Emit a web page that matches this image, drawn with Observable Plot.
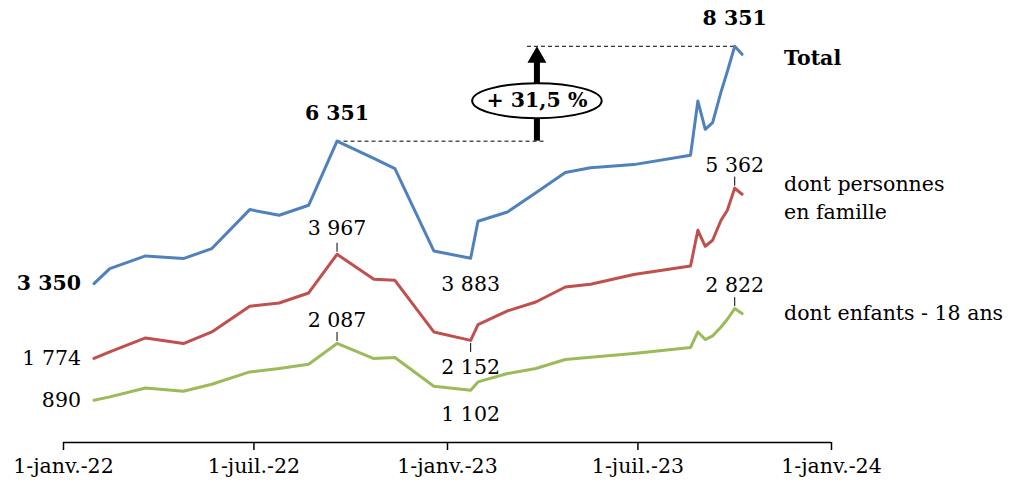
<!DOCTYPE html>
<html><head><meta charset="utf-8">
<script src="https://cdn.jsdelivr.net/npm/d3@7"></script>
<script src="https://cdn.jsdelivr.net/npm/@observablehq/plot@0.6"></script>
<style>body{margin:0;background:#fff} svg{display:block}</style>
</head><body><div id="chart"></div>
<script>
// ---- data ----
const dates = ["2022-01-30","2022-02-14","2022-03-20","2022-04-25","2022-05-22","2022-06-27","2022-07-25","2022-08-22","2022-09-18","2022-10-23","2022-11-12","2022-12-19","2023-01-23","2023-01-30","2023-02-27","2023-03-26","2023-04-23","2023-05-17","2023-06-27","2023-08-20","2023-08-27","2023-09-03","2023-09-10","2023-09-18","2023-09-24","2023-10-01","2023-10-08"];
const total   = [3350,3666,3932,3877,4088,4909,4790,5000,6351,5990,5773,4037,3883,4663,4859,5262,5689,5790,5857,6053,7197,6601,6742,7390,7820,8351,8182];
const famille = [1774,1909,2204,2086,2330,2872,2941,3152,3967,3441,3419,2330,2152,2486,2773,2962,3278,3335,3540,3721,4473,4136,4263,4684,4895,5362,5232];
const enfants = [ 890, 961,1150,1081,1228,1488,1559,1650,2087,1770,1791,1186,1102,1277,1454,1559,1749,1795,1875,2002,2330,2170,2246,2436,2598,2822,2718];
const seriesNames  = ["Total", "dont personnes\nen famille", "dont enfants - 18 ans"];
const seriesColors = ["#4F81BD", "#C0504D", "#9BBB59"];
const tickDates  = ["2022-01-01","2022-07-01","2023-01-01","2023-07-01","2024-01-01"];
const tickLabels = ["1-janv.-22","1-juil.-22","1-janv.-23","1-juil.-23","1-janv.-24"];
const xDomain = ["2022-01-01","2024-01-01"];
const yDomain = [0, 9000];
const growthLabel = "+ 31,5 %";
const annotArrowDate = "2023-03-27";
const annotLowEndDate = "2023-04-05";
const annotHighStartDate = "2023-03-18";
const firstIdx = 0, peakIdx = 8, troughIdx = 12, topIdx = 25;

// ---- build ----
const allSeries = [total, famille, enfants];
const rows = allSeries.flatMap((vals, k) => dates.map((d, i) => ({date: new Date(d), value: vals[i], series: seriesNames[k]})));
const pt = (vals, i) => ({date: new Date(dates[i]), value: vals[i]});
const fmt = v => d3.format(",")(v).replace(/,/g, " ");
const lastIdx = dates.length - 1;
const XY = {x: "date", y: "value"};
const FS = 20.5;

const ellipseSymbol = {
  draw(ctx, size) {
    const r = Math.sqrt(size / Math.PI), rx = r * 3.7, ry = r, k = 0.5523;
    ctx.moveTo(rx, 0);
    ctx.bezierCurveTo(rx, k*ry, k*rx, ry, 0, ry);
    ctx.bezierCurveTo(-k*rx, ry, -rx, k*ry, -rx, 0);
    ctx.bezierCurveTo(-rx, -k*ry, -k*rx, -ry, 0, -ry);
    ctx.bezierCurveTo(k*rx, -ry, rx, -k*ry, rx, 0);
    ctx.closePath();
  }
};

const low = total[peakIdx], high = total[topIdx];
const arrowD = new Date(annotArrowDate);
const mid = [{date: arrowD, value: (low + high) / 2}];

const chart = Plot.plot({
  width: 1010, height: 488,
  marginLeft: 63, marginRight: 179, marginTop: 15, marginBottom: 46,
  style: {fontFamily: "'DejaVu Serif', serif", fontSize: FS + "px", color: "#000", background: "#fff"},
  x: {type: "utc", domain: xDomain.map(d => new Date(d))},
  y: {domain: yDomain, axis: null},
  color: {domain: seriesNames, range: seriesColors},
  marks: [
    Plot.axisX(tickDates.map(d => new Date(d)), {
      tickSize: 8, tickPadding: 8, strokeWidth: 1.5, fontSize: FS,
      tickFormat: d => tickLabels[tickDates.indexOf(d.toISOString().slice(0, 10))]
    }),
    Plot.ruleY([0], {strokeWidth: 1.5}),
    // annotation dashed lines
    Plot.ruleY([low], {x1: new Date(dates[peakIdx]), x2: new Date(annotLowEndDate), strokeDasharray: "4,3", strokeWidth: 1, stroke: "#000"}),
    Plot.ruleY([high], {x1: new Date(annotHighStartDate), x2: new Date(dates[topIdx]), strokeDasharray: "4,3", strokeWidth: 1, stroke: "#000"}),
    // arrow shaft + head
    Plot.ruleX([arrowD], {y1: high, y2: low, insetTop: 14, strokeWidth: 6}),
    Plot.dot([{date: arrowD, value: high}], {...XY, symbol: "triangle", r: 7.05, fill: "black", stroke: "none", dy: 11}),
    Plot.dot(mid, {...XY, symbol: ellipseSymbol, r: 17.5, fill: "white", stroke: "black", strokeWidth: 2, dy: 7}),
    Plot.text(mid, {...XY, text: () => growthLabel, dy: 7, fontWeight: "bold", fontSize: FS}),
    // lines
    Plot.line(rows, {...XY, z: "series", stroke: "series", strokeWidth: 3}),
    // start labels
    Plot.text([pt(total, firstIdx)], {...XY, text: d => fmt(d.value), dx: -13, textAnchor: "end", fontWeight: "bold"}),
    Plot.text([pt(famille, firstIdx), pt(enfants, firstIdx)], {...XY, text: d => fmt(d.value), dx: -13, textAnchor: "end"}),
    // peak labels
    Plot.text([pt(total, peakIdx), pt(total, topIdx)], {...XY, text: d => fmt(d.value), dy: -28, fontWeight: "bold"}),
    Plot.text([pt(famille, peakIdx)], {...XY, text: d => fmt(d.value), dy: -26}),
    Plot.text([pt(enfants, peakIdx), pt(famille, topIdx), pt(enfants, topIdx)], {...XY, text: d => fmt(d.value), dy: -23}),
    // trough labels
    Plot.text([pt(total, troughIdx)], {...XY, text: d => fmt(d.value), dy: 26}),
    Plot.text([pt(famille, troughIdx)], {...XY, text: d => fmt(d.value), dy: 27}),
    Plot.text([pt(enfants, troughIdx)], {...XY, text: d => fmt(d.value), dy: 24}),
    // leader ticks
    Plot.ruleX([pt(famille, peakIdx), pt(enfants, peakIdx), pt(famille, topIdx), pt(enfants, topIdx)], {x: "date", y1: "value", y2: "value", insetTop: -11, insetBottom: 2, strokeWidth: 1}),
    Plot.ruleX([pt(famille, troughIdx)], {x: "date", y1: "value", y2: "value", insetTop: 3, insetBottom: -12, strokeWidth: 1}),
    // series names
    Plot.text([{...pt(total, lastIdx), name: seriesNames[0]}], {...XY, text: "name", dx: 42, dy: 4, textAnchor: "start", fontWeight: "bold"}),
    Plot.text([{...pt(famille, lastIdx), name: seriesNames[1]}], {...XY, text: "name", dx: 42, dy: 2, textAnchor: "start", lineHeight: 1.38}),
    Plot.text([{...pt(enfants, lastIdx), name: seriesNames[2]}], {...XY, text: "name", dx: 42, textAnchor: "start"})
  ]
});
document.getElementById("chart").appendChild(chart);
</script>
</body></html>
